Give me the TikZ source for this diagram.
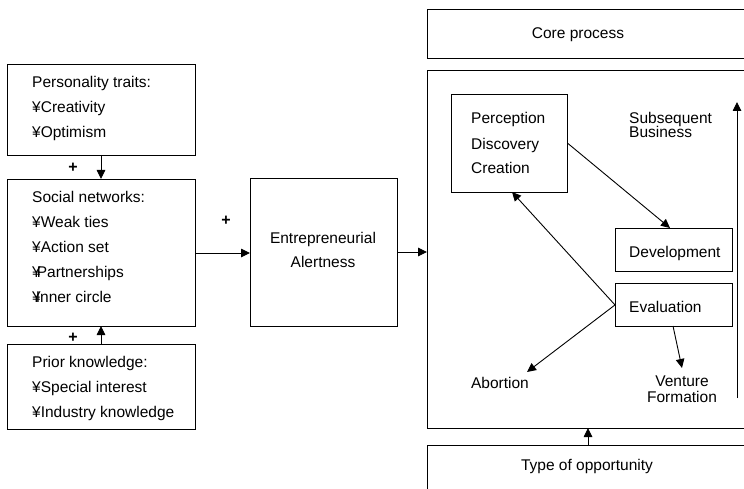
\documentclass[tikz,border=0pt]{standalone}
\usepackage{fontspec}
\setmainfont{Liberation Sans}
\usetikzlibrary{arrows.meta}
\newcommand{\fsz}{\fontsize{15.5}{18}\selectfont}
\begin{document}
\begin{tikzpicture}[x=1pt,y=-1pt,
  box/.style={draw, line width=0.9pt, inner sep=0, anchor=north west},
  lbl/.style={font=\fsz, anchor=base west, inner sep=0},
  clbl/.style={font=\fsz, anchor=base, inner sep=0},
  plus/.style={font=\fontsize{16}{18}\selectfont\bfseries, inner sep=0},
  arr/.style={-{Triangle[length=9pt,width=8.5pt]}, line width=0.9pt}]
\useasboundingbox[fill=white] (0,0) rectangle (744,489);
% left boxes
\node[box, minimum width=188pt, minimum height=91pt] (pers) at (7,64) {};
\node[box, minimum width=188pt, minimum height=147pt] (soc) at (7,179) {};
\node[box, minimum width=188pt, minimum height=85pt] (prior) at (7,344) {};
\node[lbl] (p1) at (32,87.5) {Personality traits:};
\node[lbl] (p2) at (32,112.5) {¥Creativity};
\node[lbl] (p3) at (32,137.5) {¥Optimism};
\node[lbl] (s1) at (32,202.5) {Social networks:};
\node[lbl] (s2) at (32,227.5) {¥Weak ties};
\node[lbl] (s3) at (32,252.5) {¥Action set};
\node[lbl] (s4) at (32,277.5) {¥\kern-4pt Partnerships};
\node[lbl] (s5) at (32,302.5) {¥\kern-5pt Inner circle};
\node[lbl] (k1) at (32,367.5) {Prior knowledge:};
\node[lbl] (k2) at (32,392.5) {¥Special interest};
\node[lbl] (k3) at (32,417.5) {¥Industry knowledge};
\node[plus] (pl1) at (73,168) {+};
\node[plus] (pl2) at (73,338) {+};
\node[plus] (pl3) at (226,221) {+};
\coordinate (pa) at (101,155);
\coordinate (pb) at (101,179);
\coordinate (ka) at (101,344);
\coordinate (kb) at (101,326);
\draw[arr] (pa) -- (pb);
\draw[arr] (ka) -- (kb);
% EA
\node[box, minimum width=147pt, minimum height=148pt] (ea) at (250,178) {};
\node[clbl] (ea1) at (323,243.5) {Entrepreneurial};
\node[clbl] (ea2) at (323,267.5) {Alertness};
\coordinate (sa) at (195,253);
\coordinate (sb) at (250,253);
\draw[arr] (sa) -- (sb);
% right boxes
\node[box, minimum width=340pt, minimum height=49pt] (core) at (427,9) {};
\node[clbl] (coret) at (578,38.5) {Core process};
\node[box, minimum width=340pt, minimum height=358pt] (big) at (427,70) {};
\node[box, minimum width=340pt, minimum height=60pt] (type) at (427,445) {};
\node[clbl] (typet) at (587,470.5) {Type of opportunity};
\coordinate (ta) at (588,445);
\coordinate (tb) at (588,428);
\draw[arr] (ta) -- (tb);
\coordinate (eaa) at (397,252);
\coordinate (eab) at (427,252);
\draw[arr] (eaa) -- (eab);
% inner
\node[box, minimum width=116pt, minimum height=98pt] (perc) at (451,94) {};
\node[lbl] (pc1) at (471,123.5) {Perception};
\node[lbl] (pc2) at (471,149.5) {Discovery};
\node[lbl] (pc3) at (471,173.5) {Creation};
\node[lbl] (sb1) at (629,123.5) {Subsequent};
\node[lbl] (sb2) at (629,137.5) {Business};
\node[box, minimum width=117pt, minimum height=43pt] (dev) at (615,228) {};
\node[lbl] (devt) at (629,257.5) {Development};
\node[box, minimum width=117pt, minimum height=43pt] (eval) at (615,283) {};
\node[lbl] (evalt) at (629,312.5) {Evaluation};
\node[clbl] (abort) at (500,388.5) {Abortion};
\node[clbl] (vf1) at (682,386.5) {Venture};
\node[clbl] (vf2) at (682,402.5) {Formation};
\coordinate (abtip) at (527,372);
\coordinate (vftip) at (682,368);
\coordinate (eb) at (673,326);
\coordinate (vaa) at (737,398);
\coordinate (vab) at (737,102);
\draw[arr] (perc.east) -- (670,228);
\draw[arr] (eval.west) -- (512,192);
\draw[arr] (eval.west) -- (abtip);
\draw[arr] (eb) -- (vftip);
\draw[arr] (vaa) -- (vab);
\end{tikzpicture}
\end{document}
